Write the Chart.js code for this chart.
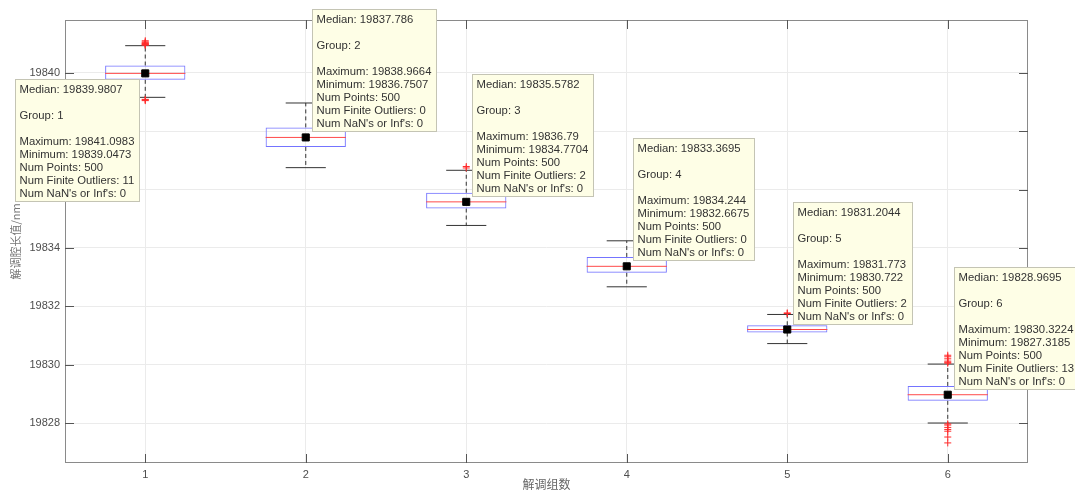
<!DOCTYPE html>
<html>
<head>
<meta charset="utf-8">
<title>解调腔长值箱线图</title>
<script src="https://cdn.jsdelivr.net/npm/chart.js@4.4.0/dist/chart.umd.min.js"></script>
<style>
  html, body { margin: 0; padding: 0; background: #ffffff; }
  #wrap { width: 1075px; height: 491px; }
</style>
</head>
<body>
<div id="wrap"><canvas id="c" width="1075" height="491"></canvas></div>
<script>
// ---- data ----
const groups = [1, 2, 3, 4, 5, 6];
const xTickLabels = ['1', '2', '3', '4', '5', '6'];
const yTicks = [19828, 19830, 19832, 19834, 19836, 19838, 19840];
const yTickLabels = ['19828', '19830', '19832', '19834', '19836', '19838', '19840'];

const medians = [19839.9807, 19837.786, 19835.5782, 19833.3695, 19831.2044, 19828.9695];
const q1 = [19839.76, 19837.46, 19835.35, 19833.15, 19831.10, 19828.76];
const q3 = [19840.25, 19838.13, 19835.89, 19833.69, 19831.35, 19829.27];
const upperWhisker = [19840.93, 19838.9664, 19836.66, 19834.244, 19831.72, 19830.02];
const lowerWhisker = [19839.16, 19836.7507, 19834.7704, 19832.6675, 19830.722, 19828.00];

const maxima = [19841.0983, 19838.9664, 19836.79, 19834.244, 19831.773, 19830.3224];
const minima = [19839.0473, 19836.7507, 19834.7704, 19832.6675, 19830.722, 19827.3185];
const numPoints = [500, 500, 500, 500, 500, 500];
const finiteOutliers = [11, 0, 2, 0, 2, 13];
const nanInfCount = [0, 0, 0, 0, 0, 0];

const outliers1 = [19841.0983, 19841.06, 19841.03, 19841.01, 19840.99, 19840.98, 19840.96, 19840.95,
                   19839.0473, 19839.07, 19839.09];
const outliers2 = [];
const outliers3 = [19836.79, 19836.74];
const outliers4 = [];
const outliers5 = [19831.773, 19831.752];
const outliers6 = [19830.3224, 19830.27, 19830.20, 19830.12, 19830.08, 19830.05,
                   19827.97, 19827.93, 19827.85, 19827.78, 19827.72, 19827.52, 19827.3185];
const outliers = [outliers1, outliers2, outliers3, outliers4, outliers5, outliers6];

// ---- geometry of the box glyphs (in x units) ----
const boxHalf = 0.25;
const capHalf = 0.125;

// turn a list of [[x1,y1],[x2,y2]] segments into one broken line
function segments(list) {
  const out = [];
  list.forEach(([a, b]) => {
    out.push({ x: a[0], y: a[1] }, { x: b[0], y: b[1] }, { x: b[0], y: null });
  });
  return out;
}

const whiskerData = segments(groups.flatMap((g, i) => [
  [[g, q3[i]], [g, upperWhisker[i]]],
  [[g, q1[i]], [g, lowerWhisker[i]]]
]));
const capData = segments(groups.flatMap((g, i) => [
  [[g - capHalf, upperWhisker[i]], [g + capHalf, upperWhisker[i]]],
  [[g - capHalf, lowerWhisker[i]], [g + capHalf, lowerWhisker[i]]]
]));
const medianLineData = segments(groups.map((g, i) => [[g - boxHalf, medians[i]], [g + boxHalf, medians[i]]]));
const boxData = groups.map((g, i) => ({ x: g, y: [q1[i], q3[i]] }));
const outlierData = groups.flatMap((g, i) => outliers[i].map(v => ({ x: g, y: v })));
const medianMarkData = groups.map((g, i) => ({ x: g, y: medians[i] }));

const lineBase = { type: 'line', showLine: true, pointRadius: 0, pointHoverRadius: 0, pointHitRadius: 0,
                   fill: false, tension: 0, spanGaps: false, borderWidth: 1 };

// ---- frame with inward ticks on all four sides ----
const framePlugin = {
  id: 'frame',
  afterDatasetsDraw(chart) {
    const { ctx, chartArea: a, scales: { x, y } } = chart;
    const tl = 9;
    ctx.save();
    ctx.lineWidth = 1;
    ctx.strokeStyle = '#8a8a8a';
    ctx.strokeRect(a.left + 0.5, a.top + 0.5, a.right - a.left - 1, a.bottom - a.top - 1);
    ctx.strokeStyle = '#555555';
    ctx.beginPath();
    groups.forEach(g => {
      const px = Math.round(x.getPixelForValue(g)) + 0.5;
      ctx.moveTo(px, a.bottom); ctx.lineTo(px, a.bottom - tl);
      ctx.moveTo(px, a.top); ctx.lineTo(px, a.top + tl);
    });
    yTicks.forEach(v => {
      const py = Math.round(y.getPixelForValue(v)) + 0.5;
      ctx.moveTo(a.left, py); ctx.lineTo(a.left + tl, py);
      ctx.moveTo(a.right, py); ctx.lineTo(a.right - tl, py);
    });
    ctx.stroke();
    ctx.restore();
  }
};

// ---- data tips anchored at each median ----
const tipBelowLeft = [true, false, false, false, false, false];
const tipPlugin = {
  id: 'dataTips',
  afterDraw(chart) {
    const { ctx, scales: { x, y } } = chart;
    ctx.save();
    ctx.font = '11.3px "Liberation Sans", Arial, sans-serif';
    ctx.textBaseline = 'middle';
    groups.forEach((g, i) => {
      const lines = [
        'Median: ' + medians[i], '', 'Group: ' + g, '',
        'Maximum: ' + maxima[i], 'Minimum: ' + minima[i],
        'Num Points: ' + numPoints[i], 'Num Finite Outliers: ' + finiteOutliers[i],
        "Num NaN's or Inf's: " + nanInfCount[i]
      ];
      const ax = x.getPixelForValue(g), ay = y.getPixelForValue(medians[i]);
      const w = Math.ceil(Math.max(...lines.map(l => ctx.measureText(l).width))) + 9;
      const lh = 13.1, h = 122;
      let left, top;
      if (tipBelowLeft[i]) { left = ax - 6 - w; top = ay + 6; }
      else { left = ax + 6; top = ay - 6 - h; }
      left = Math.round(left) + 0.5; top = Math.round(top) + 0.5;
      ctx.fillStyle = '#fefee6';
      ctx.fillRect(left, top, w, h);
      ctx.strokeStyle = '#c4c4b4';
      ctx.lineWidth = 1;
      ctx.strokeRect(left, top, w, h);
      ctx.fillStyle = '#333333';
      lines.forEach((l, k) => { if (l) ctx.fillText(l, left + 4, top + 10 + k * lh); });
    });
    ctx.restore();
  }
};

new Chart(document.getElementById('c'), {
  type: 'bar',
  data: {
    datasets: [
      { type: 'scatter', data: medianMarkData, pointStyle: 'rect', pointRadius: 5, pointHoverRadius: 5,
        backgroundColor: '#000000', borderColor: '#000000', borderWidth: 1, showLine: false },
      { type: 'scatter', data: outlierData, pointStyle: 'cross', pointRadius: 3.5, pointHoverRadius: 3.5,
        borderColor: '#ff2a2a', backgroundColor: '#ff2a2a', borderWidth: 1, showLine: false },
      Object.assign({}, lineBase, { data: medianLineData, borderColor: '#ff4a4a' }),
      { type: 'bar', data: boxData, backgroundColor: 'rgba(0,0,0,0)', borderColor: '#7474ff', borderWidth: 1,
        borderSkipped: false, categoryPercentage: 1, barPercentage: 0.5 },
      Object.assign({}, lineBase, { data: capData, borderColor: '#333333' }),
      Object.assign({}, lineBase, { data: whiskerData, borderColor: '#333333', borderDash: [4, 3] })
    ]
  },
  options: {
    responsive: false,
    devicePixelRatio: 1,
    animation: false,
    events: [],
    layout: { padding: { top: 20, right: 47, left: 0, bottom: 0 } },
    plugins: { legend: { display: false }, tooltip: { enabled: false } },
    scales: {
      x: {
        type: 'linear', min: 0.5, max: 6.5, offset: false, bounds: 'data',
        afterBuildTicks: s => { s.ticks = groups.map(v => ({ value: v })); },
        afterFit: s => { s.height = 28; },
        grid: { color: '#ebebeb', offset: false, drawTicks: false },
        border: { display: false },
        ticks: { padding: 5, autoSkip: false, maxRotation: 0, color: '#4d4d4d',
                 font: { family: '"Liberation Sans", Arial, sans-serif', size: 11 },
                 callback: (v, i) => xTickLabels[i] },
        title: { display: true, text: '解调组数', color: '#666666', padding: { top: 0, bottom: -1 },
                 font: { family: '"Noto Sans CJK SC", sans-serif', size: 12 } }
      },
      y: {
        type: 'linear', min: 19826.63, max: 19841.81, beginAtZero: false, bounds: 'data',
        afterBuildTicks: s => { s.ticks = yTicks.map(v => ({ value: v })); },
        afterFit: s => { s.width = 65; },
        grid: { color: '#ebebeb', drawTicks: false },
        border: { display: false },
        ticks: { padding: 5, autoSkip: false, color: '#4d4d4d',
                 font: { family: '"Liberation Sans", Arial, sans-serif', size: 11 },
                 callback: (v, i) => yTickLabels[i] },
        title: { display: true, text: '解调腔长值/nm', color: '#777777', padding: { top: 9, bottom: 0 },
                 font: { family: '"Noto Sans CJK SC", sans-serif', size: 11 } }
      }
    }
  },
  plugins: [framePlugin, tipPlugin]
});
</script>
</body>
</html>
